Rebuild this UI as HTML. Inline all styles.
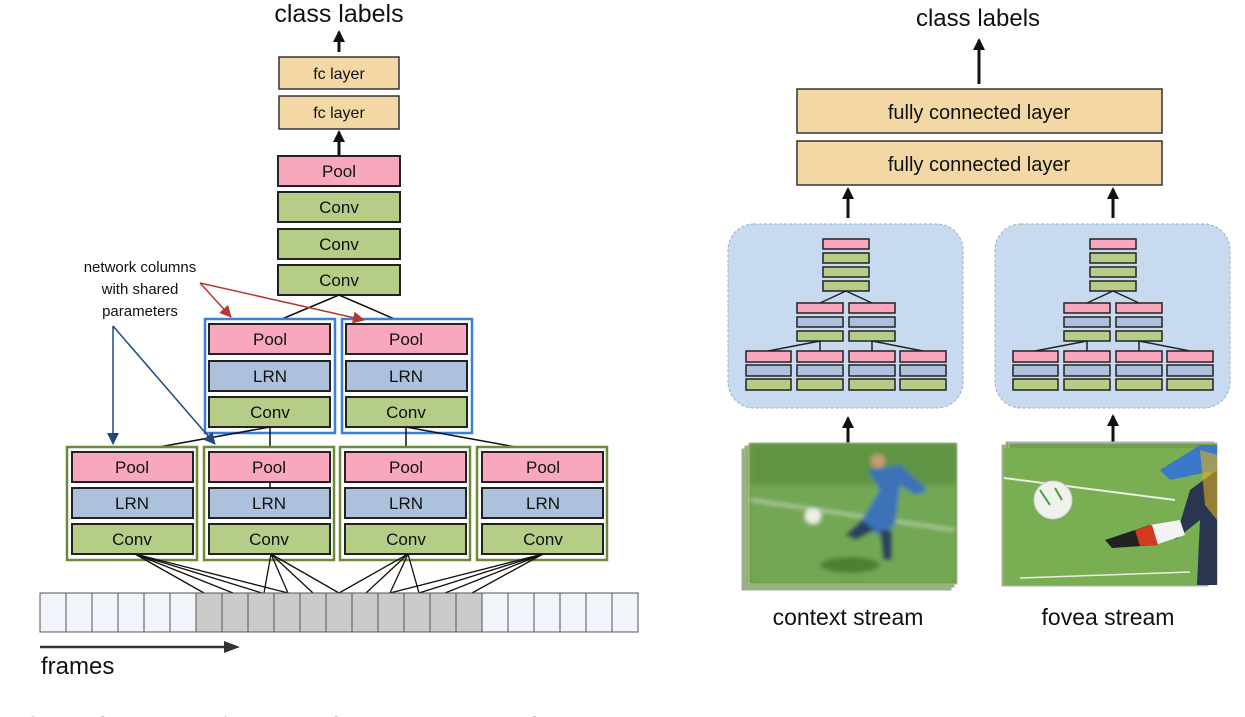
<!DOCTYPE html>
<html><head><meta charset="utf-8"><style>
html,body{margin:0;padding:0;background:#fff;width:1245px;height:717px;overflow:hidden}
svg{display:block}
text{font-family:"Liberation Sans",sans-serif;fill:#111}
</style></head><body>
<svg width="1245" height="717" viewBox="0 0 1245 717" xmlns="http://www.w3.org/2000/svg">
<defs>
<marker id="ar" markerWidth="12" markerHeight="12" refX="11" refY="6" orient="auto" markerUnits="userSpaceOnUse"><path d="M0,0 L12,6 L0,12 z" fill="#b23a35"/></marker>
<marker id="abl" markerWidth="12" markerHeight="12" refX="11" refY="6" orient="auto" markerUnits="userSpaceOnUse"><path d="M0,0 L12,6 L0,12 z" fill="#1f4a7a"/></marker>
<marker id="ak" markerWidth="12" markerHeight="12" refX="10" refY="6" orient="auto" markerUnits="userSpaceOnUse"><path d="M0,0 L12,6 L0,12 z" fill="#111"/></marker>
<filter id="bl"><feGaussianBlur stdDeviation="2"/></filter>
</defs>

<text x="339" y="22" font-size="25" text-anchor="middle">class labels</text>
<line x1="339" y1="52" x2="339" y2="32" stroke="#111" stroke-width="3" marker-end="url(#ak)"/>
<g stroke="#333" stroke-width="1.5">
<rect x="279" y="57" width="120" height="32" fill="#f3d8a6"/>
<rect x="279" y="96" width="120" height="33" fill="#f3d8a6"/>
</g>
<text x="339" y="79" font-size="16" text-anchor="middle">fc layer</text>
<text x="339" y="118" font-size="16" text-anchor="middle">fc layer</text>
<line x1="339" y1="155" x2="339" y2="132" stroke="#111" stroke-width="3" marker-end="url(#ak)"/>
<g stroke="#222" stroke-width="2">
<rect x="278" y="156" width="122" height="30" fill="#f8a7bc"/>
<rect x="278" y="192" width="122" height="30" fill="#b6cd88"/>
<rect x="278" y="229" width="122" height="30" fill="#b6cd88"/>
<rect x="278" y="265" width="122" height="30" fill="#b6cd88"/>
</g>
<g font-size="17" text-anchor="middle">
<text x="339" y="177">Pool</text><text x="339" y="213">Conv</text><text x="339" y="250">Conv</text><text x="339" y="286">Conv</text>
</g>

<g stroke="#111" stroke-width="1.5" fill="none">
<line x1="339" y1="295" x2="270" y2="324"/>
<line x1="339" y1="295" x2="406" y2="324"/>
</g>

<g>
<rect x="205" y="319" width="130" height="114" fill="#fff" stroke="#3b7fd6" stroke-width="2.5"/>
<rect x="342" y="319" width="130" height="114" fill="#fff" stroke="#3b7fd6" stroke-width="2.5"/>
<g stroke="#222" stroke-width="2">
<rect x="209" y="324" width="121" height="30" fill="#f8a7bc"/>
<rect x="209" y="361" width="121" height="30" fill="#adc1dc"/>
<rect x="209" y="397" width="121" height="30" fill="#b6cd88"/>
<rect x="346" y="324" width="121" height="30" fill="#f8a7bc"/>
<rect x="346" y="361" width="121" height="30" fill="#adc1dc"/>
<rect x="346" y="397" width="121" height="30" fill="#b6cd88"/>
</g>
<g font-size="17" text-anchor="middle">
<text x="270" y="345">Pool</text><text x="270" y="382">LRN</text><text x="270" y="418">Conv</text>
<text x="406" y="345">Pool</text><text x="406" y="382">LRN</text><text x="406" y="418">Conv</text>
</g>
</g>

<g stroke="#111" stroke-width="1.5" fill="none">
<line x1="270" y1="427" x2="131" y2="452"/>
<line x1="270" y1="427" x2="270" y2="452"/>
<line x1="406" y1="427" x2="406" y2="452"/>
<line x1="406" y1="427" x2="543" y2="452"/>
</g>

<g>
<g fill="#fff" stroke="#6b8a3a" stroke-width="2.5">
<rect x="67" y="447" width="130" height="113"/>
<rect x="204" y="447" width="130" height="113"/>
<rect x="340" y="447" width="130" height="113"/>
<rect x="477" y="447" width="130" height="113"/>
</g>
<g stroke="#222" stroke-width="2">
<rect x="72" y="452" width="121" height="30" fill="#f8a7bc"/><rect x="72" y="488" width="121" height="30" fill="#adc1dc"/><rect x="72" y="524" width="121" height="30" fill="#b6cd88"/>
<rect x="209" y="452" width="121" height="30" fill="#f8a7bc"/><rect x="209" y="488" width="121" height="30" fill="#adc1dc"/><rect x="209" y="524" width="121" height="30" fill="#b6cd88"/>
<rect x="345" y="452" width="121" height="30" fill="#f8a7bc"/><rect x="345" y="488" width="121" height="30" fill="#adc1dc"/><rect x="345" y="524" width="121" height="30" fill="#b6cd88"/>
<rect x="482" y="452" width="121" height="30" fill="#f8a7bc"/><rect x="482" y="488" width="121" height="30" fill="#adc1dc"/><rect x="482" y="524" width="121" height="30" fill="#b6cd88"/>
</g>
<line x1="270" y1="482" x2="270" y2="488" stroke="#111" stroke-width="1.5"/>
<g font-size="17" text-anchor="middle">
<text x="132" y="473">Pool</text><text x="132" y="509">LRN</text><text x="132" y="545">Conv</text>
<text x="269" y="473">Pool</text><text x="269" y="509">LRN</text><text x="269" y="545">Conv</text>
<text x="406" y="473">Pool</text><text x="406" y="509">LRN</text><text x="406" y="545">Conv</text>
<text x="543" y="473">Pool</text><text x="543" y="509">LRN</text><text x="543" y="545">Conv</text>
</g>
</g>

<g stroke="#111" stroke-width="1.3">
<line x1="135" y1="554" x2="204" y2="593"/><line x1="135" y1="554" x2="233" y2="593"/><line x1="135" y1="554" x2="262" y2="593"/><line x1="135" y1="554" x2="288" y2="593"/>
<line x1="271" y1="554" x2="264" y2="593"/><line x1="271" y1="554" x2="288" y2="593"/><line x1="271" y1="554" x2="313" y2="593"/><line x1="271" y1="554" x2="339" y2="593"/>
<line x1="408" y1="554" x2="339" y2="593"/><line x1="408" y1="554" x2="366" y2="593"/><line x1="408" y1="554" x2="390" y2="593"/><line x1="408" y1="554" x2="419" y2="593"/>
<line x1="543" y1="554" x2="390" y2="593"/><line x1="543" y1="554" x2="419" y2="593"/><line x1="543" y1="554" x2="445" y2="593"/><line x1="543" y1="554" x2="472" y2="593"/>
</g>

<g stroke="#555" stroke-width="1">
<rect x="40" y="593" width="26" height="39" fill="#f1f4fa"/><rect x="66" y="593" width="26" height="39" fill="#f1f4fa"/><rect x="92" y="593" width="26" height="39" fill="#f1f4fa"/><rect x="118" y="593" width="26" height="39" fill="#f1f4fa"/><rect x="144" y="593" width="26" height="39" fill="#f1f4fa"/><rect x="170" y="593" width="26" height="39" fill="#f1f4fa"/>
<rect x="196" y="593" width="26" height="39" fill="#cbcbcb"/><rect x="222" y="593" width="26" height="39" fill="#cbcbcb"/><rect x="248" y="593" width="26" height="39" fill="#cbcbcb"/><rect x="274" y="593" width="26" height="39" fill="#cbcbcb"/><rect x="300" y="593" width="26" height="39" fill="#cbcbcb"/><rect x="326" y="593" width="26" height="39" fill="#cbcbcb"/><rect x="352" y="593" width="26" height="39" fill="#cbcbcb"/><rect x="378" y="593" width="26" height="39" fill="#cbcbcb"/><rect x="404" y="593" width="26" height="39" fill="#cbcbcb"/><rect x="430" y="593" width="26" height="39" fill="#cbcbcb"/><rect x="456" y="593" width="26" height="39" fill="#cbcbcb"/>
<rect x="482" y="593" width="26" height="39" fill="#f1f4fa"/><rect x="508" y="593" width="26" height="39" fill="#f1f4fa"/><rect x="534" y="593" width="26" height="39" fill="#f1f4fa"/><rect x="560" y="593" width="26" height="39" fill="#f1f4fa"/><rect x="586" y="593" width="26" height="39" fill="#f1f4fa"/><rect x="612" y="593" width="26" height="39" fill="#f1f4fa"/>
</g>
<line x1="40" y1="647" x2="228" y2="647" stroke="#333" stroke-width="2.5"/>
<path d="M224,641 L240,647 L224,653 z" fill="#333"/>
<text x="41" y="674" font-size="24">frames</text>

<g font-size="15" text-anchor="middle">
<text x="140" y="272">network columns</text>
<text x="140" y="294">with shared</text>
<text x="140" y="316">parameters</text>
</g>
<g stroke="#b23a35" stroke-width="1.5" fill="none">
<line x1="200" y1="283" x2="231" y2="317" marker-end="url(#ar)"/>
<line x1="200" y1="283" x2="364" y2="320" marker-end="url(#ar)"/>
</g>
<g stroke="#1f4a7a" stroke-width="1.5" fill="none">
<line x1="113" y1="326" x2="113" y2="444" marker-end="url(#abl)"/>
<line x1="113" y1="326" x2="215" y2="444" marker-end="url(#abl)"/>
</g>

<text x="978" y="26" font-size="24" text-anchor="middle">class labels</text>
<line x1="979" y1="84" x2="979" y2="40" stroke="#111" stroke-width="3" marker-end="url(#ak)"/>
<g stroke="#333" stroke-width="1.5">
<rect x="797" y="89" width="365" height="44" fill="#f3d8a6"/>
<rect x="797" y="141" width="365" height="44" fill="#f3d8a6"/>
</g>
<text x="979" y="119" font-size="20" text-anchor="middle">fully connected layer</text>
<text x="979" y="171" font-size="20" text-anchor="middle">fully connected layer</text>
<line x1="848" y1="218" x2="848" y2="189" stroke="#111" stroke-width="3" marker-end="url(#ak)"/>
<line x1="1113" y1="218" x2="1113" y2="189" stroke="#111" stroke-width="3" marker-end="url(#ak)"/>

<g id="p1">
<rect x="728" y="224" width="235" height="184" rx="26" fill="#c8daf0" stroke="#9fb0c6" stroke-dasharray="3,2"/>
<g stroke="#222" stroke-width="1.5">
<rect x="823" y="239" width="46" height="10" fill="#f8a7bc"/><rect x="823" y="253" width="46" height="10" fill="#b6cd88"/><rect x="823" y="267" width="46" height="10" fill="#b6cd88"/><rect x="823" y="281" width="46" height="10" fill="#b6cd88"/>
<line x1="846" y1="291" x2="820" y2="303"/><line x1="846" y1="291" x2="872" y2="303"/>
<rect x="797" y="303" width="46" height="10" fill="#f8a7bc"/><rect x="797" y="317" width="46" height="10" fill="#adc1dc"/><rect x="797" y="331" width="46" height="10" fill="#b6cd88"/>
<rect x="849" y="303" width="46" height="10" fill="#f8a7bc"/><rect x="849" y="317" width="46" height="10" fill="#adc1dc"/><rect x="849" y="331" width="46" height="10" fill="#b6cd88"/>
<line x1="820" y1="341" x2="768" y2="351"/><line x1="820" y1="341" x2="820" y2="351"/><line x1="872" y1="341" x2="872" y2="351"/><line x1="872" y1="341" x2="923" y2="351"/>
<rect x="746" y="351" width="45" height="11" fill="#f8a7bc"/><rect x="746" y="365" width="45" height="11" fill="#adc1dc"/><rect x="746" y="379" width="45" height="11" fill="#b6cd88"/>
<rect x="797" y="351" width="46" height="11" fill="#f8a7bc"/><rect x="797" y="365" width="46" height="11" fill="#adc1dc"/><rect x="797" y="379" width="46" height="11" fill="#b6cd88"/>
<rect x="849" y="351" width="46" height="11" fill="#f8a7bc"/><rect x="849" y="365" width="46" height="11" fill="#adc1dc"/><rect x="849" y="379" width="46" height="11" fill="#b6cd88"/>
<rect x="900" y="351" width="46" height="11" fill="#f8a7bc"/><rect x="900" y="365" width="46" height="11" fill="#adc1dc"/><rect x="900" y="379" width="46" height="11" fill="#b6cd88"/>
</g>
</g>
<use href="#p1" x="267" y="0"/>

<line x1="848" y1="445" x2="848" y2="418" stroke="#111" stroke-width="3" marker-end="url(#ak)"/>
<line x1="1113" y1="443" x2="1113" y2="416" stroke="#111" stroke-width="3" marker-end="url(#ak)"/>

<g>
<rect x="742" y="449" width="209" height="141" fill="#8fb56a" stroke="#aaa"/>
<rect x="745" y="446" width="209" height="141" fill="#8fb56a" stroke="#aaa"/>
<rect x="749" y="443" width="208" height="141" fill="#6fa04a" stroke="#bbb"/>
<g filter="url(#bl)">
<rect x="751" y="445" width="204" height="137" fill="#72a852"/>
<rect x="751" y="445" width="204" height="40" fill="#5f9442"/>
<path d="M751,500 L955,530" stroke="#dfe8d0" stroke-width="1.5"/>
<circle cx="813" cy="516" r="8" fill="#eef0e6"/>
<circle cx="878" cy="461" r="7" fill="#c89a78"/>
<path d="M868,470 L900,465 L928,490 L915,495 L900,485 L895,525 L878,535 L862,520 L880,490 Z" fill="#3a72b8"/>
<path d="M862,520 L845,535 L856,540 L875,530 Z" fill="#2b3f5e"/>
<path d="M880,530 L883,560 L892,560 L892,530 Z" fill="#2b3f5e"/>
<ellipse cx="850" cy="565" rx="30" ry="8" fill="#4f7e36"/>
</g>
</g>
<g>
<rect x="1002" y="445" width="206" height="141" fill="#8fb56a" stroke="#aaa"/>
<rect x="1006" y="442" width="208" height="141" fill="#7aa85a" stroke="#aaa"/>
<rect x="1009" y="443" width="208" height="141" fill="#6fa04a" stroke="#bbb"/>
<g>
<rect x="1004" y="448" width="205" height="137" fill="#7aae52"/>
<path d="M1004,478 L1175,500" stroke="#e8efe0" stroke-width="2"/>
<path d="M1020,578 L1190,572" stroke="#e8efe0" stroke-width="1.5"/>
<circle cx="1053" cy="500" r="19" fill="#eef2ea" stroke="#ccd" stroke-width="1"/>
<path d="M1040,490 L1050,505 M1055,488 L1062,500" stroke="#4a9a4a" stroke-width="2"/>
<path d="M1160,470 L1200,445 L1217,445 L1217,470 L1170,480 Z" fill="#3a78c8"/>
<path d="M1190,490 L1217,470 L1217,585 L1197,585 L1200,520 L1175,540 Z" fill="#2a3550"/>
<path d="M1150,525 L1180,520 L1185,535 L1155,545 Z" fill="#f2f2f2"/>
<path d="M1105,540 L1150,525 L1158,545 L1112,548 Z" fill="#222"/>
<path d="M1135,530 L1152,525 L1158,545 L1140,546 Z" fill="#d23a20"/>
<path d="M1200,450 L1217,455 L1217,520 L1205,505 Z" fill="#e0b020" opacity="0.6"/>
</g>
</g>

<text x="848" y="625" font-size="23" text-anchor="middle">context stream</text>
<text x="1108" y="625" font-size="23" text-anchor="middle">fovea stream</text>

<text x="-2" y="731" font-size="20" style="font-family:'Liberation Serif',serif">the fovea and architecture of network used in this work with shared parameters in the stream with two stream multiresolution processing on the image, the work</text>
</svg>
</body></html>
